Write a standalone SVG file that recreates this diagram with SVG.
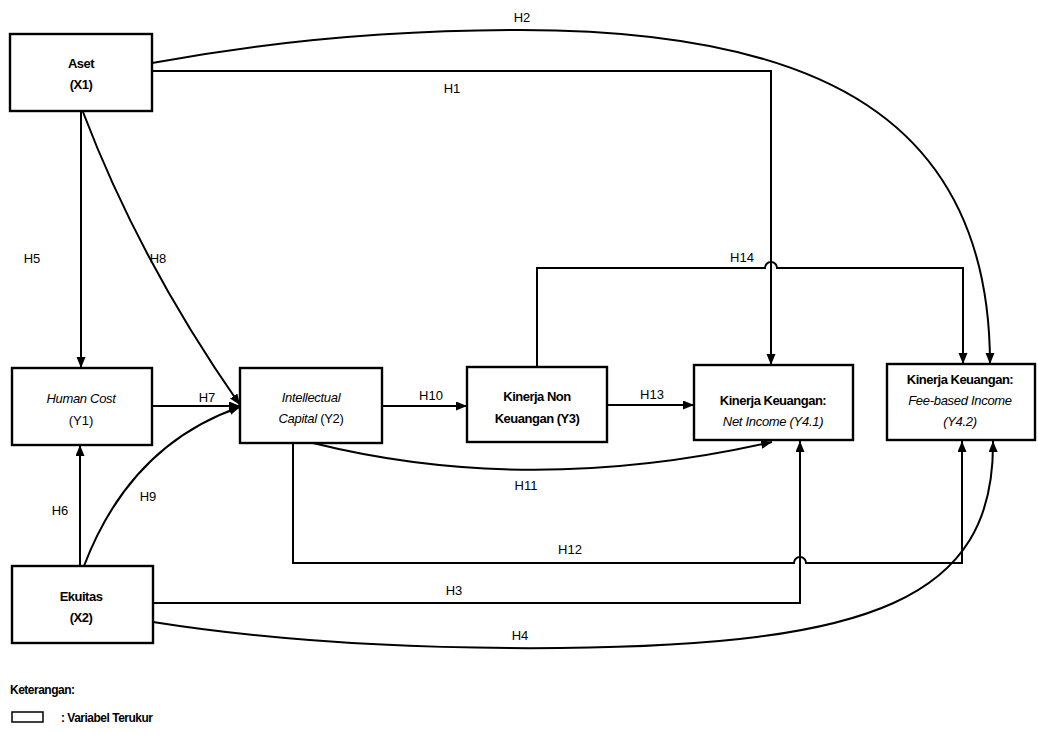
<svg xmlns="http://www.w3.org/2000/svg" width="1038" height="734" viewBox="0 0 1038 734">
<style>
.box{fill:#fff;stroke:#000;stroke-width:2.4}
.t{font-family:"Liberation Sans",Arial,sans-serif;font-size:13px;text-anchor:middle;fill:#000}
.b{font-weight:bold;letter-spacing:-0.5px}
.i{font-style:italic;letter-spacing:-0.3px}
.lbl{font-family:"Liberation Sans",Arial,sans-serif;font-size:13px;text-anchor:middle;fill:#000}
.c{fill:none;stroke:#000;stroke-width:2}
.a{marker-end:url(#arr)}
</style>
<defs>
<marker id="arr" markerWidth="12" markerHeight="10" refX="11" refY="4.5" orient="auto" markerUnits="userSpaceOnUse">
<path d="M0,0 L11,4.5 L0,9 z" fill="#000"/>
</marker>
</defs>
<rect width="1038" height="734" fill="#fff"/>
<g id="connectors">
<path class="c a" d="M152,63 Q330,30 520,30 C820,30 990,120 990,364"/>
<path class="c a" d="M152,71 H771 V365"/>
<path class="c a" d="M537,367 V268 H765 A6,6 0 0 1 777,268 H963 V364"/>
<path class="c a" d="M81,112 V368"/>
<path class="c a" d="M83,112 Q140,262 240,405"/>
<path class="c a" d="M152,406 H240"/>
<path class="c a" d="M84,566 Q130,445 240,407"/>
<path class="c a" d="M80,566 V445"/>
<path class="c a" d="M382,406 H467"/>
<path class="c a" d="M607,405 H694"/>
<path class="c a" d="M313,443 Q530,497 772,442"/>
<path class="c a" d="M293,443 V563 H794 A6,6 0 0 1 806,563 H962 V441"/>
<path class="c a" d="M153,603 H800 V441"/>
<path class="c a" d="M153,622 Q330,650 560,648 C870,645 995,600 993,441"/>
</g>
<g id="labels">
<text class="lbl" x="522" y="22">H2</text>
<text class="lbl" x="452" y="93">H1</text>
<text class="lbl" x="32" y="263">H5</text>
<text class="lbl" x="158" y="263">H8</text>
<text class="lbl" x="742" y="262">H14</text>
<text class="lbl" x="207" y="402">H7</text>
<text class="lbl" x="431" y="400">H10</text>
<text class="lbl" x="652" y="399">H13</text>
<text class="lbl" x="526" y="490">H11</text>
<text class="lbl" x="570" y="554">H12</text>
<text class="lbl" x="60" y="515">H6</text>
<text class="lbl" x="148" y="501">H9</text>
<text class="lbl" x="454" y="595">H3</text>
<text class="lbl" x="520" y="640">H4</text>
</g>
<g id="aset">
<rect class="box" x="10" y="34" width="142" height="77"/>
<text class="t b" x="81" y="68">Aset</text>
<text class="t b" x="81" y="89">(X1)</text>
</g>
<g id="human-cost">
<rect class="box" x="12" y="368" width="140" height="77"/>
<text class="t i" x="81" y="403">Human Cost</text>
<text class="t" x="81" y="425">(Y1)</text>
</g>
<g id="intellectual-capital">
<rect class="box" x="240" y="368" width="142" height="75"/>
<text class="t i" x="311" y="402">Intellectual</text>
<text class="t i" x="311" y="423">Capital <tspan font-style="normal">(Y2)</tspan></text>
</g>
<g id="kinerja-non-keuangan">
<rect class="box" x="467" y="367" width="140" height="75"/>
<text class="t b" x="537" y="401">Kinerja Non</text>
<text class="t b" x="537" y="423">Keuangan (Y3)</text>
</g>
<g id="net-income">
<rect class="box" x="694" y="365" width="159" height="75"/>
<text class="t b" x="773" y="405">Kinerja Keuangan:</text>
<text class="t i" x="773" y="426">Net Income (Y4.1)</text>
</g>
<g id="fee-based-income">
<rect class="box" x="887" y="364" width="148" height="76"/>
<text class="t b" x="960" y="384">Kinerja Keuangan:</text>
<text class="t i" x="960" y="405">Fee-based Income</text>
<text class="t i" x="960" y="426">(Y4.2)</text>
</g>
<g id="ekuitas">
<rect class="box" x="12" y="566" width="141" height="77"/>
<text class="t b" x="81" y="601">Ekuitas</text>
<text class="t b" x="81" y="622">(X2)</text>
</g>
<g id="legend">
<text x="10" y="694" font-family="Liberation Sans, Arial, sans-serif" font-size="12" font-weight="bold" letter-spacing="-0.5">Keterangan:</text>
<rect x="12" y="712" width="31" height="10" fill="none" stroke="#000" stroke-width="1.5"/>
<text x="61" y="722" font-family="Liberation Sans, Arial, sans-serif" font-size="12" font-weight="bold" letter-spacing="-0.5">: Variabel Terukur</text>
</g>
</svg>
